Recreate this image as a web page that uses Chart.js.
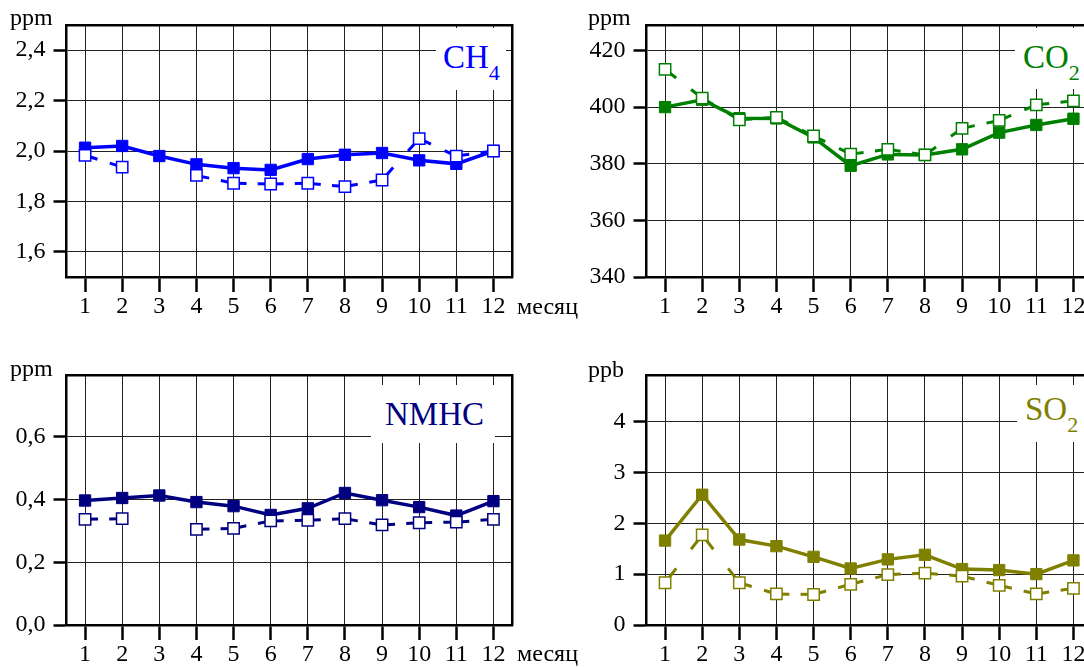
<!DOCTYPE html>
<html>
<head>
<meta charset="utf-8">
<script src="https://cdn.jsdelivr.net/npm/chart.js@4.4.1/dist/chart.umd.min.js"></script>
<style>
	body { margin: 0; width: 1084px; height: 667px; overflow: hidden; background: #fff; position: relative; font-family: 'Liberation Serif', 'Times New Roman', serif; }
	canvas { position: absolute; }
	.lbl { position: absolute; font-size: 24px; line-height: 24px; color: #000; white-space: nowrap; }
	.box { position: absolute; background: #fff; z-index: 2; }
	.ttl { position: absolute; font-size: 33px; line-height: 32px; white-space: nowrap; z-index: 3; }
	.ttl sub { font-size: 22px; vertical-align: baseline; position: relative; top: 12px; }
</style>
</head>
<body>
<canvas id="ch4" width="560" height="330" style="left:0;top:0"></canvas>
<canvas id="co2" width="560" height="330" style="left:580px;top:0"></canvas>
<canvas id="nmhc" width="560" height="317" style="left:0;top:350px"></canvas>
<canvas id="so2" width="560" height="317" style="left:580px;top:350px"></canvas>

<div class="lbl" style="left:10px;top:5px">ppm</div>
<div class="lbl" style="left:588px;top:5px">ppm</div>
<div class="lbl" style="left:10px;top:356px">ppm</div>
<div class="lbl" style="left:588px;top:357px">ppb</div>
<div class="lbl" style="left:517px;top:294px">месяц</div>
<div class="lbl" style="left:517px;top:641px">месяц</div>

<div class="box" style="left:436px;top:28px;width:70px;height:62px"></div>
<div class="ttl" style="left:443px;top:41px;color:#0000ff">CH<sub>4</sub></div>
<div class="box" style="left:1015px;top:28px;width:80px;height:61px"></div>
<div class="ttl" style="left:1023px;top:41px;color:#008000">CO<sub>2</sub></div>
<div class="box" style="left:371px;top:385px;width:124px;height:58px"></div>
<div class="ttl" style="left:385px;top:398px;color:#000080">NMHC</div>
<div class="box" style="left:1017px;top:385px;width:80px;height:57px"></div>
<div class="ttl" style="left:1025px;top:393px;color:#808000">SO<sub>2</sub></div>

<script>
const months = ['1', '2', '3', '4', '5', '6', '7', '8', '9', '10', '11', '12'];

// filled squares (solid line) and open squares (dashed line)
const ch4Filled = [2.013, 2.02, 1.98, 1.947, 1.932, 1.925, 1.968, 1.985, 1.992, 1.963, 1.949, 2.0];
const ch4Open = [1.983, 1.936, null, 1.903, 1.872, 1.869, 1.872, 1.859, 1.885, 2.049, 1.98, 2.0];
const ch4Ticks = [1.6, 1.8, 2.0, 2.2, 2.4];

const co2Filled = [400, 402.6, 396.1, 396, 389.3, 379.3, 383.3, 383.1, 385.1, 391, 393.7, 395.9];
const co2Open = [413.3, 403.2, 395.5, 396.4, 389.8, 383.4, 385.1, 383.1, 392.5, 395.3, 400.8, 402.2];
const co2Ticks = [340, 360, 380, 400, 420];

const nmhcFilled = [0.397, 0.405, 0.413, 0.392, 0.379, 0.351, 0.372, 0.421, 0.398, 0.376, 0.349, 0.395];
const nmhcOpen = [0.337, 0.339, null, 0.305, 0.308, 0.332, 0.334, 0.339, 0.319, 0.326, 0.328, 0.337];
const nmhcTicks = [0, 0.2, 0.4, 0.6];

const so2Filled = [1.66, 2.56, 1.68, 1.55, 1.34, 1.11, 1.29, 1.38, 1.1, 1.08, 1.0, 1.27];
const so2Open = [0.83, 1.77, 0.83, 0.61, 0.6, 0.8, 0.99, 1.02, 0.96, 0.78, 0.61, 0.72];
const so2Ticks = [0, 1, 2, 3, 4];

const tickFont = { family: 'Liberation Serif', size: 24 };

function comma(v) {
	return v.toFixed(1).replace('.', ',');
}

function plain(v) {
	return String(v);
}

// dash near each marker, gap in the middle of every segment
function segLen(ctx) {
	return Math.hypot(ctx.p1.x - ctx.p0.x, ctx.p1.y - ctx.p0.y);
}

function dashLen(ctx) {
	return Math.max(13, segLen(ctx) * 0.3);
}

function makeChart(id, color, filled, open, yTicks, yMin, yMax, fmt, areaTop, areaBottom, canvasH) {
	const data = {
		labels: months,
		datasets: [
			{
				data: open,
				xAxisID: 'x',
				yAxisID: 'y',
				borderColor: color,
				borderWidth: 3,
				pointStyle: 'rect',
				pointRadius: 8,
				pointBorderWidth: 1.5,
				pointBackgroundColor: '#fff',
				pointBorderColor: color,
				spanGaps: false,
				segment: {
					borderDash: (ctx) => {
						const d = dashLen(ctx);
						return [2 * d, Math.max(segLen(ctx) - 2 * d, 0.1)];
					},
					borderDashOffset: (ctx) => dashLen(ctx),
				},
			},
			{
				data: filled,
				xAxisID: 'x',
				yAxisID: 'y',
				borderColor: color,
				borderWidth: 3.5,
				pointStyle: 'rect',
				pointRadius: 8,
				pointBorderWidth: 1,
				pointBackgroundColor: color,
				pointBorderColor: color,
			},
		],
	};

	const config = {
		type: 'line',
		data: data,
		options: {
			responsive: false,
			animation: false,
			devicePixelRatio: 1,
			layout: { padding: { top: areaTop, right: 48, left: 0, bottom: 0 } },
			plugins: { legend: { display: false }, tooltip: { enabled: false } },
			scales: {
				x: {
					type: 'category',
					offset: true,
					grid: { offset: false, color: '#222', lineWidth: 1, tickLength: 15, tickWidth: 2.5, tickColor: '#000' },
					border: { color: '#000', width: 2.5 },
					ticks: { font: tickFont, color: '#000', padding: 0, maxRotation: 0, autoSkip: false },
					afterFit: (s) => {
						s.height = canvasH - areaBottom;
					},
				},
				x2: {
					type: 'category',
					position: 'top',
					offset: true,
					grid: { drawOnChartArea: false, drawTicks: false },
					border: { color: '#000', width: 2.5 },
					ticks: { display: false },
					afterFit: (s) => {
						s.height = 0;
					},
				},
				y: {
					type: 'linear',
					min: yMin,
					max: yMax,
					afterBuildTicks: (s) => {
						s.ticks = yTicks.map((v) => ({ value: v }));
					},
					grid: { color: '#222', lineWidth: 1, tickLength: 13, tickWidth: 2.5, tickColor: '#000' },
					border: { color: '#000', width: 2.5 },
					ticks: { font: tickFont, color: '#000', padding: 8, callback: (v) => fmt(v) },
					afterFit: (s) => {
						s.width = 66.5;
					},
				},
				y2: {
					type: 'linear',
					position: 'right',
					min: yMin,
					max: yMax,
					grid: { drawOnChartArea: false, drawTicks: false },
					border: { color: '#000', width: 2.5 },
					ticks: { display: false },
					afterFit: (s) => {
						s.width = 0;
					},
				},
			},
		},
	};
	return new Chart(document.getElementById(id), config);
}

makeChart('ch4', '#0000ff', ch4Filled, ch4Open, ch4Ticks, 1.5, 2.5, comma, 25, 277, 330);
makeChart('co2', '#008000', co2Filled, co2Open, co2Ticks, 340, 429, plain, 25, 277, 330);
makeChart('nmhc', '#000080', nmhcFilled, nmhcOpen, nmhcTicks, 0, 0.795, comma, 25.7, 275, 317);
makeChart('so2', '#808000', so2Filled, so2Open, so2Ticks, 0, 4.9, plain, 25.7, 275, 317);
</script>
</body>
</html>
